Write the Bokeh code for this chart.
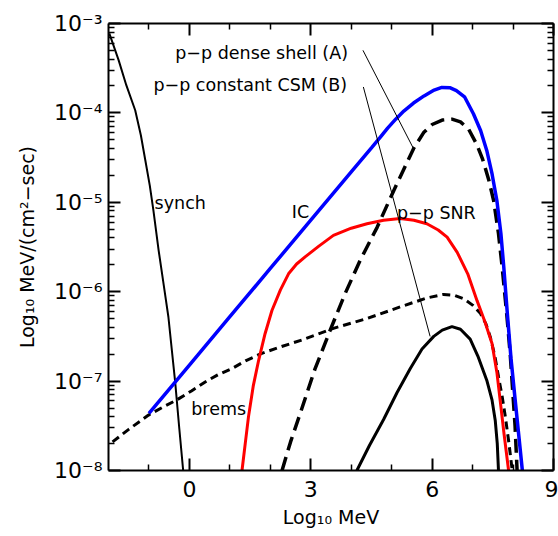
from bokeh.plotting import figure
from bokeh.models import Range1d, FixedTicker, LinearAxis, LogAxis, CustomJSTickFormatter, ColumnDataSource
from bokeh.core.properties import value
from bokeh.embed import file_html
from bokeh.resources import INLINE

# ---------------- data (x = log10 MeV, values = log10 flux) ----------------
synch_x = [-1.98, -1.75, -1.56, -1.34, -1.20, -1.09, -0.98, -0.89, -0.76, -0.64,
           -0.52, -0.35, -0.25, -0.15]
synch_logf = [-3.11, -3.41, -3.69, -3.97, -4.25, -4.53, -4.81, -5.09, -5.54, -5.91,
              -6.28, -7.02, -7.53, -8.02]

ic_x = [-1.0, 0.0, 1.0, 2.0, 3.0, 4.0, 4.5, 4.72, 4.9, 5.1, 5.3, 5.54, 5.8, 6.05,
        6.24, 6.45, 6.6, 6.8, 7.02, 7.2, 7.35, 7.48, 7.60, 7.70, 7.77, 7.86, 7.95,
        8.05, 8.14, 8.23]
ic_logf = [-7.36, -6.82, -6.28, -5.74, -5.20, -4.66, -4.39, -4.27, -4.17, -4.07,
           -3.98, -3.89, -3.81, -3.745, -3.715, -3.72, -3.75, -3.82, -4.01, -4.20,
           -4.42, -4.68, -4.98, -5.35, -5.72, -6.25, -6.75, -7.20, -7.60, -8.0]

dense_x = [2.29, 2.5, 2.74, 3.1, 3.48, 3.85, 4.22, 4.64, 5.05, 5.3, 5.54, 5.79, 6.0,
           6.25, 6.49, 6.7, 6.9, 7.1, 7.25, 7.4, 7.52, 7.64, 7.73, 7.85, 7.93, 7.99,
           8.05, 8.1]
dense_logf = [-8.0, -7.68, -7.36, -6.87, -6.43, -6.02, -5.65, -5.28, -4.87, -4.63,
              -4.40, -4.22, -4.13, -4.08, -4.07, -4.10, -4.18, -4.35, -4.52, -4.75,
              -4.98, -5.35, -5.72, -6.28, -6.70, -7.10, -7.50, -8.0]

snr_x = [1.30, 1.38, 1.46, 1.58, 1.71, 1.87, 2.04, 2.25, 2.45, 2.65, 2.86, 3.2, 3.56,
         4.0, 4.39, 4.8, 5.21, 5.55, 5.87, 6.15, 6.37, 6.62, 6.88, 7.11, 7.3, 7.48,
         7.6, 7.68, 7.78, 7.89]
snr_logf = [-8.0, -7.70, -7.40, -7.05, -6.77, -6.47, -6.21, -5.98, -5.80, -5.69, -5.61,
            -5.49, -5.37, -5.29, -5.24, -5.20, -5.18, -5.20, -5.24, -5.31, -5.39, -5.56,
            -5.80, -6.10, -6.33, -6.58, -6.90, -7.21, -7.60, -8.0]

brems_x = [-1.9, -1.5, -1.01, -0.65, -0.31, 0.05, 0.39, 0.7, 1.05, 1.4, 1.79, 2.3,
           2.78, 3.56, 4.39, 5.21, 5.87, 6.28, 6.55, 6.78, 7.0, 7.19, 7.33, 7.44, 7.55,
           7.64, 7.73, 7.81, 7.9, 7.98]
brems_logf = [-7.68, -7.54, -7.38, -7.29, -7.21, -7.11, -7.01, -6.93, -6.86, -6.77,
              -6.69, -6.61, -6.54, -6.41, -6.30, -6.17, -6.07, -6.03, -6.04, -6.08,
              -6.15, -6.24, -6.36, -6.51, -6.72, -6.95, -7.17, -7.40, -7.70, -8.0]

csm_x = [4.14, 4.45, 4.80, 5.13, 5.46, 5.75, 6.04, 6.25, 6.49, 6.7, 6.94, 7.13, 7.35,
         7.48, 7.56, 7.61, 7.64]
csm_logf = [-8.0, -7.72, -7.43, -7.13, -6.86, -6.64, -6.50, -6.43, -6.39, -6.42, -6.53,
            -6.72, -6.99, -7.21, -7.44, -7.70, -8.0]

# annotation pointer lines (label -> curve)
ptr_a_x = [4.29, 5.54]
ptr_a_logf = [-3.30, -4.40]
ptr_b_x = [4.30, 5.95]
ptr_b_logf = [-3.71, -6.50]

label_text = ["p\u2212p dense shell (A)", "p\u2212p constant CSM (B)", "synch", "IC",
              "p\u2212p SNR", "brems"]
label_x = [-0.35, -0.89, -0.86, 2.53, 5.13, 0.045]
label_logf = [-3.33, -3.69, -5.01, -5.11, -5.12, -7.31]

x_major = [0, 3, 6, 9]
x_minor = [-1, 1, 2, 4, 5, 7, 8]
y_major = [1e-8, 1e-7, 1e-6, 1e-5, 1e-4, 1e-3]
y_labels = ["10\u207b\u2078", "10\u207b\u2077", "10\u207b\u2076", "10\u207b\u2075",
            "10\u207b\u2074", "10\u207b\u00b3"]
y_minor = [k * 10.0 ** e for e in range(-8, -3) for k in range(2, 10)]


def lin(v):
    return [10.0 ** a for a in v]


p = figure(width=558, height=536, x_range=Range1d(-2, 9), y_range=Range1d(1e-8, 1e-3),
           y_axis_type="log", output_backend="svg", toolbar_location=None,
           min_border_left=108, min_border_right=5, min_border_top=23, min_border_bottom=66)
p.grid.visible = False
p.outline_line_color = None
p.background_fill_color = "white"
p.border_fill_color = "white"

bottom = p.xaxis[0]
left = p.yaxis[0]

xt = FixedTicker(ticks=x_major, minor_ticks=x_minor)
yt = FixedTicker(ticks=y_major, minor_ticks=y_minor)
bottom.ticker = xt
left.ticker = yt
left.major_label_overrides = {t: s for t, s in zip(y_major, y_labels)}

blank = "return ''"
top = LinearAxis(ticker=xt, formatter=CustomJSTickFormatter(code=blank), major_label_standoff=0)
right = LogAxis(ticker=yt, formatter=CustomJSTickFormatter(code=blank), major_label_standoff=0)
p.add_layout(top, "above")
p.add_layout(right, "right")

for ax in [bottom, left, top, right]:
    ax.axis_line_width = 2
    ax.axis_line_color = "black"
    ax.major_tick_in = 12
    ax.major_tick_out = 0
    ax.minor_tick_in = 6
    ax.minor_tick_out = 0
    ax.major_tick_line_width = 2
    ax.minor_tick_line_width = 1.5
    ax.major_tick_line_color = "black"
    ax.minor_tick_line_color = "black"

for ax in [bottom, left]:
    ax.major_label_text_font = "DejaVu Sans"
    ax.major_label_text_font_size = "22px"
    ax.major_label_text_color = "black"
    ax.axis_label_text_font = "DejaVu Sans"
    ax.axis_label_text_font_size = "19px"
    ax.axis_label_text_font_style = "normal"
    ax.axis_label_text_color = "black"

bottom.axis_label = "Log\u2081\u2080 MeV"
bottom.major_label_standoff = 10
bottom.axis_label_standoff = 6
left.axis_label = "Log\u2081\u2080 MeV/(cm\u00b2\u2212sec)"
left.major_label_standoff = 6
left.axis_label_standoff = 13

p.line(synch_x, lin(synch_logf), line_color="black", line_width=2)
p.line(brems_x, lin(brems_logf), line_color="black", line_width=3, line_dash="8 5")
p.line(snr_x, lin(snr_logf), line_color="#ff0000", line_width=3)
p.line(csm_x, lin(csm_logf), line_color="black", line_width=3)
p.line(dense_x, lin(dense_logf), line_color="black", line_width=3.5, line_dash="14 7")
p.line(ic_x, lin(ic_logf), line_color="#0000ff", line_width=3.5)
p.line(ptr_a_x, lin(ptr_a_logf), line_color="black", line_width=1)
p.line(ptr_b_x, lin(ptr_b_logf), line_color="black", line_width=1)

src = ColumnDataSource(dict(x=label_x, y=lin(label_logf), t=label_text))
p.text(x="x", y="y", text="t", source=src, text_font=value("DejaVu Sans"),
       text_font_size=value("17.5px"), text_baseline="alphabetic", text_align="left",
       text_color="black")

open("out.html", "w").write(file_html(p, INLINE))
